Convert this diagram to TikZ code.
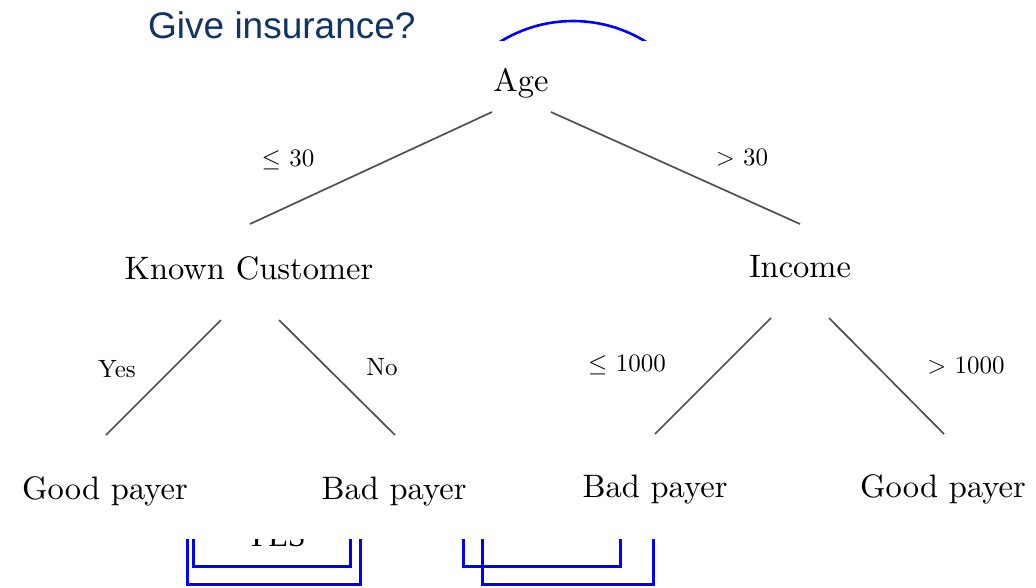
\documentclass[tikz,border=0pt]{standalone}
\usepackage{fontspec}
\newfontfamily\arialfont{Liberation Sans}
\newfontfamily\timesfont{Liberation Serif}
\newfontfamily\lmten{lmroman10-regular.otf}
\usetikzlibrary{calc}
\definecolor{titleblue}{RGB}{16,52,100}
\definecolor{edgegray}{RGB}{80,80,80}
\tikzset{
  treenode/.style={inner sep=0pt, anchor=base, font=\lmten\fontsize{32.5}{40}\selectfont},
  edgelabel/.style={inner sep=0pt, anchor=center, font=\lmten\fontsize{25}{30}\selectfont},
  edge/.style={draw=edgegray, line width=1.7pt},
  bluemark/.style={draw=blue, line width=3pt}
}
\begin{document}
\begin{tikzpicture}[x=1pt,y=-1pt]
\useasboundingbox (0,0) rectangle (1036,587);
\fill[white] (0,0) rectangle (1036,587);

% title
\node[inner sep=0pt, anchor=base west, text=titleblue, font=\arialfont\fontsize{37}{44}\selectfont] (title) at (148,38) {Give insurance?};

% tree nodes
\node[treenode] (age) at (521,91) {Age};
\node[treenode] (kc) at (249,279) {Known Customer};
\node[treenode] (inc) at (800,277) {Income};
\node[treenode] (g1) at (105,499) {Good payer};
\node[treenode] (b1) at (394,499) {Bad payer};
\node[treenode] (b2) at (655,497) {Bad payer};
\node[treenode] (g2) at (943,497) {Good payer};

% edges
\draw[edge] ($(age.base)+(-29,21)$) -- ($(kc.base)+(1,-55)$);
\draw[edge] ($(age.base)+(30,21)$) -- ($(inc.base)+(0,-53)$);
\draw[edge] ($(kc.base)+(-28,41)$) -- ($(g1.base)+(1,-64)$);
\draw[edge] ($(kc.base)+(30,41)$) -- ($(b1.base)+(1,-64)$);
\draw[edge] ($(inc.base)+(-29,41)$) -- ($(b2.base)+(0,-63)$);
\draw[edge] ($(inc.base)+(29,41)$) -- ($(g2.base)+(1,-63)$);

% edge labels
\node[edgelabel] (l1) at (288,160) {$\leq$ 30};
\node[edgelabel] (l2) at (742,158) {$>$ 30};
\node[edgelabel] (l3) at (117,369) {Yes};
\node[edgelabel] (l4) at (382,367) {No};
\node[edgelabel] (l5) at (627,365) {$\leq$ 1000};
\node[edgelabel] (l6) at (966,365) {$>$ 1000};

% top blue arc (clipped)
\begin{scope}
\clip (0,0) rectangle (1036,40.5);
\draw[blue, line width=2.6pt] (573,159.4) ++(235:138.4) arc (235:305:138.4);
\end{scope}

% bottom partly hidden marks
\begin{scope}
\clip (0,539) rectangle (1036,587);
\node[inner sep=0pt, anchor=base west, font=\timesfont\fontsize{32}{38}\selectfont] (yes) at (245,546) {YES};
\draw[bluemark] (187,530) -- (187,584) -- (360,584) -- (360,530);
\draw[bluemark] (193,530) -- (193,566) -- (350,566) -- (350,530);
\draw[bluemark] (463,530) -- (463,566) -- (620,566) -- (620,530);
\draw[bluemark] (482,530) -- (482,584) -- (653,584) -- (653,530);
\end{scope}
\end{tikzpicture}
\end{document}
